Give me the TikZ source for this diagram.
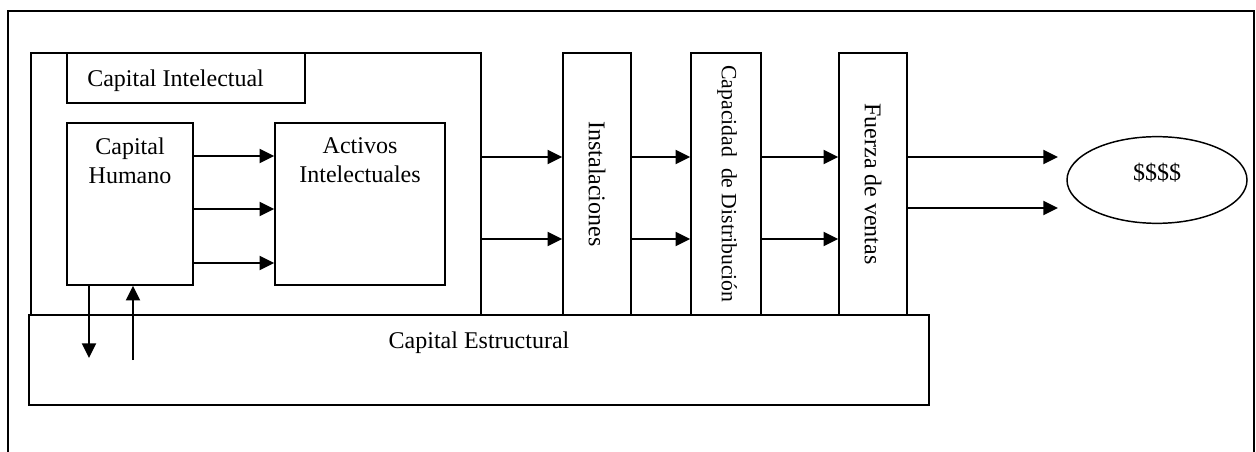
\documentclass[tikz,border=0pt]{standalone}
\usepackage{fontspec}
\setmainfont{Liberation Serif}
\usetikzlibrary{fit,arrows.meta,shapes.geometric}
\begin{document}
\begin{tikzpicture}[x=0.75pt,y=-0.75pt,
  box/.style={draw,line width=1.1pt,inner sep=0pt},
  arr/.style={line width=1.5pt,-{Triangle[length=11pt,width=10.5pt]}},
  lbl/.style={inner sep=0pt,font=\fontsize{18}{21.75}\selectfont},
]
\useasboundingbox (0,0) rectangle (1256,452);
% outer frame (open at the bottom)
\coordinate (fbl) at (8,452);
\coordinate (ftl) at (8,11);
\coordinate (ftr) at (1254,11);
\coordinate (fbr) at (1254,452);
\draw[line width=1.1pt] (fbl) -- (ftl) -- (ftr) -- (fbr);

% boxes
\node[box, fit={(31,53) (481,315)}] (ci) {};
\node[box, fit={(67,53) (305,103)}] (cil) {};
\node[box, fit={(67,123) (193,285)}] (humano) {};
\node[box, fit={(275,123) (445,285)}] (activos) {};
\node[box, fit={(29,315) (929,405)}] (ce) {};
\node[box, fit={(563,53) (631,315)}] (inst) {};
\node[box, fit={(691,53) (761,315)}] (capd) {};
\node[box, fit={(839,53) (907,315)}] (fuerza) {};
\node[box, ellipse, minimum width=135pt, minimum height=65pt] (money) at (1157,180) {};

% texts
\node[lbl, anchor=base west] (tcil) at (87,87) {Capital Intelectual};
\node[lbl, anchor=north, align=center] (thum) at (130,137.5) {Capital\\Humano};
\node[lbl, anchor=north, align=center] (tact) at (360,137.5) {Activos\\Intelectuales};
\node[lbl, anchor=base] (tce) at (479,348) {Capital Estructural};
\node[lbl, rotate=-90] (tinst) at (597,184) {Instalaciones};
\node[lbl, rotate=-90, font=\fontsize{16.3}{19}\selectfont] (tcap) at (727,184) {Capacidad\ \ de Distribución};
\node[lbl, rotate=-90] (tfue) at (873,184) {Fuerza de ventas};
\node[lbl] (tmon) at (1157,173) {\$\$\$\$};

% rows
\coordinate (r1) at (0,156);
\coordinate (r2) at (0,209);
\coordinate (r3) at (0,263);
\coordinate (s1) at (0,157);
\coordinate (s2) at (0,239);
\coordinate (o1) at (1058,157);
\coordinate (o2) at (1058,208);
\coordinate (d1) at (89,358);
\coordinate (u1) at (133,360);

% connectors
\draw[arr] (humano.east |- r1) -- (activos.west |- r1);
\draw[arr] (humano.east |- r2) -- (activos.west |- r2);
\draw[arr] (humano.east |- r3) -- (activos.west |- r3);
\draw[arr] (ci.east |- s1) -- (inst.west |- s1);
\draw[arr] (ci.east |- s2) -- (inst.west |- s2);
\draw[arr] (inst.east |- s1) -- (capd.west |- s1);
\draw[arr] (inst.east |- s2) -- (capd.west |- s2);
\draw[arr] (capd.east |- s1) -- (fuerza.west |- s1);
\draw[arr] (capd.east |- s2) -- (fuerza.west |- s2);
\draw[arr] (fuerza.east |- o1) -- (o1);
\draw[arr] (fuerza.east |- o2) -- (o2);
\draw[arr] (humano.south -| d1) -- (d1);
\draw[arr] (u1) -- (humano.south -| u1);
\end{tikzpicture}
\end{document}
